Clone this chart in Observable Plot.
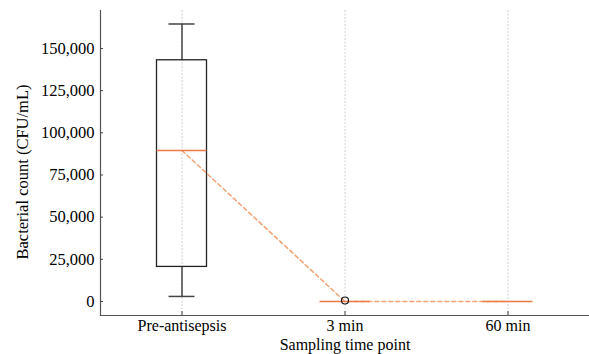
<!DOCTYPE html>
<html>
<head>
<meta charset="utf-8">
<script src="https://cdn.jsdelivr.net/npm/d3@7"></script>
<script src="https://cdn.jsdelivr.net/npm/@observablehq/plot@0.6"></script>
<style>
  body { margin: 0; background: #fff; }
  #chart svg { font-family: "Liberation Serif", "Times New Roman", serif; }
</style>
</head>
<body>
<div id="chart"></div>
<script>
const categories = ["Pre-antisepsis", "3 min", "60 min"];
const whiskerLow = [3000, 0, 0];
const q1 = [20500, 0, 0];
const median = [89500, 0, 0];
const q3 = [143000, 0, 0];
const whiskerHigh = [164500, 0, 0];
const outlierGroup = ["3 min"];
const outlierValue = [600];
const yTicks = [0, 25000, 50000, 75000, 100000, 125000, 150000];

const stats = categories.map((c, i) => ({
  group: c, lo: whiskerLow[i], q1: q1[i], med: median[i], q3: q3[i], hi: whiskerHigh[i]
}));
const outliers = outlierGroup.map((g, i) => ({group: g, value: outlierValue[i]}));
const boxed = stats.filter(d => d.q3 > d.q1);

const bw = 163; // approx band width in px
const boxInset = (bw - 50) / 2;
const capInset = (bw - 26) / 2;
const fmt = d3.format(",");

const plot = Plot.plot({
  width: 589,
  height: 354,
  marginTop: 10,
  marginLeft: 100,
  marginRight: 0,
  marginBottom: 39,
  style: {fontFamily: "Liberation Serif, serif", fontSize: "16px", background: "#fff"},
  x: {type: "band", domain: categories, padding: 0, label: "Sampling time point"},
  y: {domain: [-8300, 172500], label: "Bacterial count (CFU/mL)"},
  marks: [
    Plot.gridX(categories, {stroke: "#d0d0d0", strokeOpacity: 1, strokeDasharray: "2,1.5"}),
    Plot.frame({anchor: "left", stroke: "#555", strokeWidth: 1.2}),
    Plot.frame({anchor: "bottom", stroke: "#555", strokeWidth: 1.2}),
    Plot.axisY({ticks: yTicks, tickFormat: fmt, tickSize: -3, tickPadding: 9, label: "Bacterial count (CFU/mL)", labelAnchor: "center", labelOffset: 84, labelArrow: "none", fontSize: 16.5, stroke: "#444"}),
    Plot.axisX({tickSize: -4, tickPadding: 8, label: null, fontSize: 16, stroke: "#444"}),
    Plot.axisX({ticks: [], label: "Sampling time point", labelAnchor: "center", labelOffset: 34.5, labelArrow: "none", fontSize: 16}),
    Plot.ruleX(boxed, {x: "group", y1: "lo", y2: "q1", stroke: "#444", strokeWidth: 1.5}),
    Plot.ruleX(boxed, {x: "group", y1: "q3", y2: "hi", stroke: "#444", strokeWidth: 1.5}),
    Plot.tickY(boxed, {x: "group", y: "lo", stroke: "#444", strokeWidth: 1.5, insetLeft: capInset, insetRight: capInset}),
    Plot.tickY(boxed, {x: "group", y: "hi", stroke: "#444", strokeWidth: 1.5, insetLeft: capInset, insetRight: capInset}),
    Plot.barY(boxed, {x: "group", y1: "q1", y2: "q3", fill: "none", stroke: "#222", strokeWidth: 1.3, insetLeft: boxInset, insetRight: boxInset}),
    Plot.lineY(stats, {x: "group", y: "med", stroke: "#f2a274", strokeWidth: 1.5, strokeDasharray: "4,3"}),
    Plot.tickY(stats, {x: "group", y: "med", stroke: "#ec7a45", strokeWidth: 1.6, insetLeft: boxInset, insetRight: boxInset}),
    Plot.dot(outliers, {x: "group", y: "value", r: 3.5, stroke: "#111", strokeWidth: 1.2, fill: "none"})
  ]
});
document.getElementById("chart").appendChild(plot);
const yl = d3.select(plot).select('g[aria-label="y-axis label"]');
if (!yl.empty()) {
  const t = yl.attr("transform") || "";
  yl.attr("transform", "translate(0,9) " + t);
}
</script>
</body>
</html>
